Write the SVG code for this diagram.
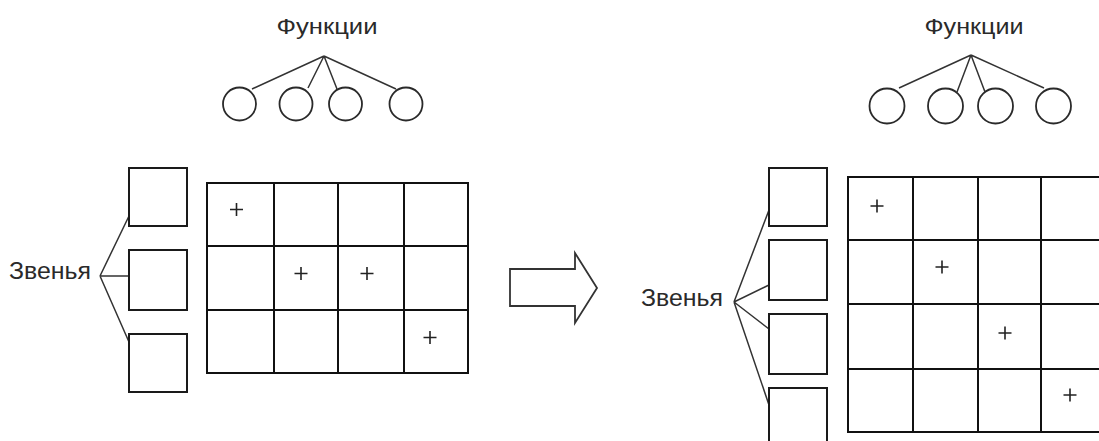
<svg xmlns="http://www.w3.org/2000/svg" width="1099" height="441" viewBox="0 0 1099 441">
<style>
.t{font-family:"Liberation Sans",Arial,sans-serif;fill:#2a2a2a}
.s{fill:#fff;stroke:#1a1a1a;stroke-width:2}
.c{fill:#fff;stroke:#2a2a2a;stroke-width:1.8}
.l{fill:none;stroke:#333;stroke-width:1.5}
.g{fill:none;stroke:#111;stroke-width:2}
.p{fill:none;stroke:#222;stroke-width:1.6}
</style>
<rect width="1099" height="441" fill="#fff"/>
<g id="connectors">
<path class="l" d="M324 56L252 89M324 56L308 88M324 56L337 89M324 56L396 89"/>
<path class="l" d="M100 276L129 216M100 276L129 276M100 276L129 342"/>
<path class="l" d="M971 55L899 88M971 55L957 92M971 55L985 92M971 55L1044 88"/>
<path class="l" d="M734 302L769 210M734 302L769 285M734 302L769 329M734 302L769 405"/>
</g>
<g id="left-functions-label"><text class="t" x="327" y="34" font-size="22" text-anchor="middle" textLength="101" lengthAdjust="spacingAndGlyphs">Функции</text></g>
<g id="left-f1"><circle class="c" cx="239.5" cy="104" r="16.5"/></g>
<g id="left-f2"><circle class="c" cx="296" cy="104" r="16.5"/></g>
<g id="left-f3"><circle class="c" cx="345.5" cy="104" r="16.5"/></g>
<g id="left-f4"><circle class="c" cx="406" cy="104" r="16.5"/></g>
<g id="left-links-label"><text class="t" x="9" y="279" font-size="24" textLength="82" lengthAdjust="spacingAndGlyphs">Звенья</text></g>
<g id="left-l1"><rect class="s" x="129" y="168" width="58" height="58"/></g>
<g id="left-l2"><rect class="s" x="129" y="250" width="58" height="60"/></g>
<g id="left-l3"><rect class="s" x="129" y="334" width="58" height="58"/></g>
<g id="left-matrix">
<rect class="g" x="207" y="183" width="261" height="190"/>
<path class="g" d="M274 183V373M338 183V373M404 183V373M207 246H468M207 310H468"/>
<path class="p" d="M230 209.5H243M236.5 203V216M294.5 273.5H307.5M301 267V280M360.5 273.5H373.5M367 267V280M423.5 337.5H436.5M430 331V344"/>
</g>
<g id="arrow"><path fill="#fff" stroke="#333" stroke-width="1.8" stroke-linejoin="miter" d="M510 269H575V253L597 288L575 323V306H510Z"/></g>
<g id="right-functions-label"><text class="t" x="974" y="34" font-size="22" text-anchor="middle" textLength="99" lengthAdjust="spacingAndGlyphs">Функции</text></g>
<g id="right-f1"><circle class="c" cx="887" cy="106" r="17.5"/></g>
<g id="right-f2"><circle class="c" cx="945.5" cy="106" r="17.5"/></g>
<g id="right-f3"><circle class="c" cx="995.5" cy="106" r="17.5"/></g>
<g id="right-f4"><circle class="c" cx="1053.5" cy="106" r="17.5"/></g>
<g id="right-links-label"><text class="t" x="641" y="306" font-size="24" textLength="82" lengthAdjust="spacingAndGlyphs">Звенья</text></g>
<g id="right-l1"><rect class="s" x="769" y="168" width="58" height="58"/></g>
<g id="right-l2"><rect class="s" x="769" y="240" width="58" height="60"/></g>
<g id="right-l3"><rect class="s" x="769" y="314" width="58" height="60"/></g>
<g id="right-l4"><rect class="s" x="769" y="388" width="58" height="60"/></g>
<g id="right-matrix">
<rect class="g" x="848" y="177" width="270" height="255"/>
<path class="g" d="M913 177V432M978 177V432M1041 177V432M848 240H1099M848 304H1099M848 369H1099"/>
<path class="p" d="M870.5 206H883.5M877 199.5V212.5M935.5 267H948.5M942 260.5V273.5M998.5 333H1011.5M1005 326.5V339.5M1063.5 395H1076.5M1070 388.5V401.5"/>
</g>
</svg>
